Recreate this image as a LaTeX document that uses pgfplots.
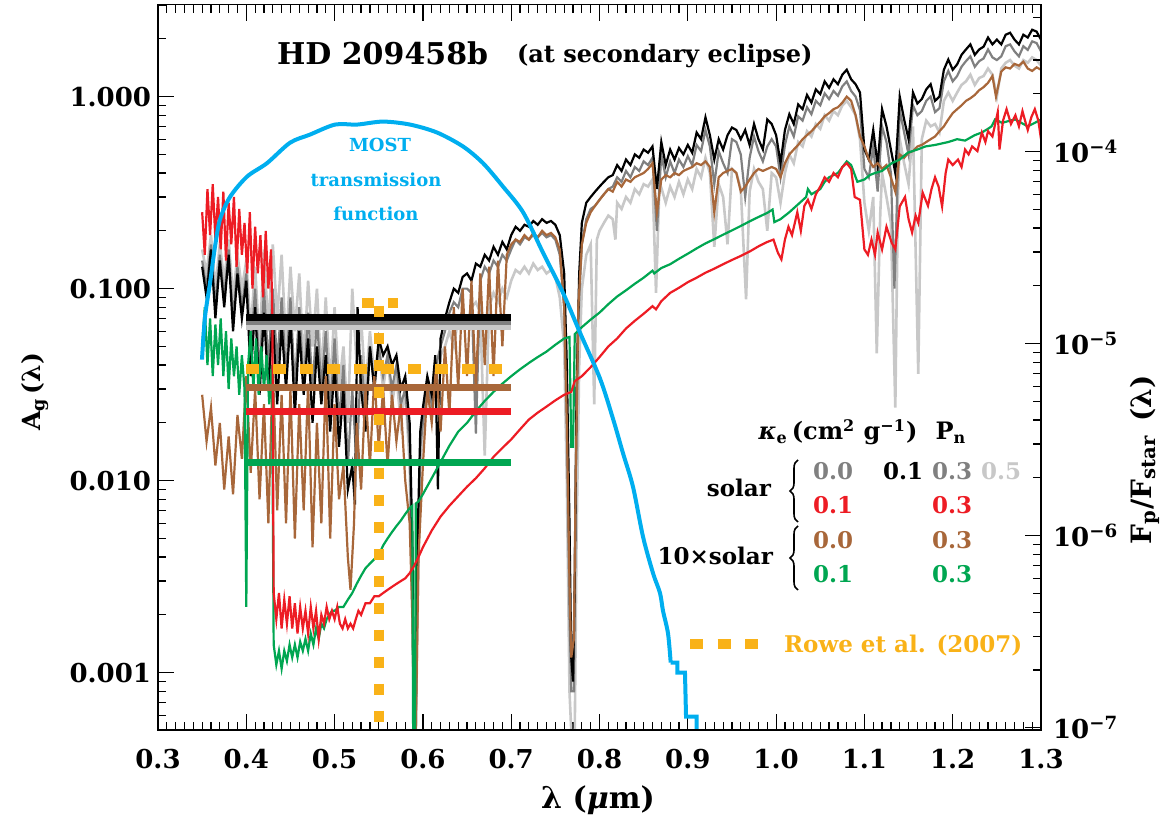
\documentclass[border=0pt]{standalone}
\usepackage{pgfplots}
\pgfplotsset{compat=1.18}
\usepackage{fontspec}
\setmainfont{DejaVu Serif}
\usetikzlibrary{decorations.pathreplacing}
\definecolor{cdgray}{RGB}{128,128,128}
\definecolor{clgray}{RGB}{200,200,200}
\definecolor{cred}{RGB}{237,28,36}
\definecolor{cgreen}{RGB}{0,166,81}
\definecolor{cbrown}{RGB}{168,103,58}
\definecolor{cblue}{RGB}{0,174,239}
\definecolor{corange}{RGB}{249,178,24}
\newcommand{\fs}[1]{\fontsize{#1}{#1}\selectfont\bfseries}
\begin{document}
\begin{tikzpicture}
\useasboundingbox (0,0) rectangle (583.5pt,409pt);
\begin{axis}[
  at={(79pt,44pt)}, anchor=south west,
  width=441.5pt, height=362.65pt, scale only axis,
  xmin=0.3, xmax=1.3, ymode=log, ymin=5.03e-4, ymax=3.01,
  xtick={0.3,0.4,0.5,0.6,0.7,0.8,0.9,1.0,1.1,1.2,1.3},
  xticklabels={0.3,0.4,0.5,0.6,0.7,0.8,0.9,1.0,1.1,1.2,1.3},
  minor x tick num=9,
  ytick={0.001,0.01,0.1,1}, yticklabels={0.001,0.010,0.100,1.000},
  minor ytick={6e-4,7e-4,8e-4,9e-4,2e-3,3e-3,4e-3,5e-3,6e-3,7e-3,8e-3,9e-3,2e-2,3e-2,4e-2,5e-2,6e-2,7e-2,8e-2,9e-2,0.2,0.3,0.4,0.5,0.6,0.7,0.8,0.9,2,3},
  xtick pos=both, ytick pos=left, tick align=inside,
  major tick length=8pt, minor tick length=4pt,
  tick style={black, line width=0.6pt},
  axis line style={line width=0.7pt},
  tick label style={font=\fs{13}},
  xticklabel style={yshift=-6pt},
]
% light gray: solar k=0.0 Pn=0.5
\addplot[clgray, line width=1.3pt] coordinates {
(0.350,0.16)(0.355,0.12)(0.360,0.19)(0.365,0.10)(0.370,0.17)(0.375,0.11)(0.380,0.18)(0.385,0.09)(0.390,0.15)(0.395,0.10)
(0.400,0.14)(0.405,0.06)(0.410,0.13)(0.415,0.05)(0.420,0.16)(0.425,0.06)(0.430,0.17)(0.435,0.07)(0.440,0.15)(0.445,0.05)
(0.450,0.13)(0.455,0.06)(0.460,0.12)(0.465,0.04)(0.470,0.11)(0.475,0.05)(0.480,0.10)(0.485,0.035)(0.490,0.09)(0.495,0.03)
(0.500,0.08)(0.505,0.03)(0.510,0.05)(0.515,0.02)(0.520,0.10)(0.525,0.04)(0.530,0.07)(0.535,0.03)(0.540,0.06)(0.545,0.035)
(0.550,0.05)(0.555,0.03)(0.560,0.045)(0.565,0.025)(0.570,0.035)(0.575,0.02)(0.580,0.03)(0.585,0.012)(0.588,0.002)(0.590,0.0005)
(0.592,0.0005)(0.594,0.002)(0.597,0.012)(0.600,0.018)(0.605,0.03)(0.610,0.022)(0.615,0.035)(0.620,0.045)(0.625,0.05)(0.630,0.06)
(0.635,0.05)(0.640,0.07)(0.645,0.075)(0.650,0.065)(0.655,0.08)(0.660,0.085)(0.665,0.075)(0.670,0.0135)(0.675,0.08)(0.680,0.095)
(0.685,0.085)(0.690,0.1)(0.695,0.09)(0.700,0.11)(0.705,0.125)(0.710,0.12)(0.715,0.13)(0.720,0.12)(0.725,0.135)(0.730,0.125)
(0.735,0.13)(0.740,0.12)(0.745,0.125)(0.750,0.115)(0.755,0.09)(0.760,0.05)(0.763,0.01)(0.766,0.0008)(0.768,0.0005)(0.772,0.0005)
(0.774,0.005)(0.777,0.04)(0.780,0.10)(0.785,0.15)(0.790,0.17)(0.794,0.025)(0.797,0.18)(0.800,0.20)(0.805,0.22)(0.810,0.24)
(0.815,0.23)(0.818,0.18)(0.820,0.28)(0.825,0.26)(0.830,0.30)(0.835,0.28)(0.840,0.33)(0.845,0.31)(0.850,0.35)(0.855,0.34)
(0.860,0.37)(0.864,0.095)(0.868,0.36)(0.875,0.28)(0.880,0.34)(0.885,0.30)(0.890,0.36)(0.895,0.31)(0.900,0.37)(0.905,0.33)
(0.910,0.42)(0.915,0.38)(0.920,0.48)(0.925,0.40)(0.930,0.165)(0.935,0.35)(0.940,0.30)(0.945,0.17)(0.950,0.42)(0.955,0.40)
(0.960,0.33)(0.966,0.088)(0.970,0.32)(0.975,0.42)(0.980,0.36)(0.985,0.33)(0.990,0.20)(0.995,0.40)(1.000,0.38)(1.005,0.28)
(1.010,0.40)(1.015,0.50)(1.020,0.45)(1.025,0.58)(1.030,0.55)(1.035,0.66)(1.040,0.62)(1.045,0.72)(1.050,0.68)(1.055,0.80)
(1.060,0.75)(1.065,0.84)(1.070,0.80)(1.075,0.90)(1.080,0.95)(1.085,0.88)(1.090,0.80)(1.095,0.60)(1.100,0.28)(1.105,0.20)
(1.110,0.30)(1.114,0.046)(1.118,0.25)(1.120,0.40)(1.125,0.30)(1.130,0.22)(1.135,0.024)(1.138,0.30)(1.140,0.60)(1.145,0.45)
(1.150,0.35)(1.155,0.70)(1.161,0.036)(1.165,0.60)(1.170,0.75)(1.175,0.70)(1.180,0.72)(1.185,0.65)(1.190,0.95)(1.195,1.05)
(1.200,0.95)(1.205,1.05)(1.210,1.15)(1.215,1.20)(1.220,1.30)(1.225,1.15)(1.230,1.25)(1.235,1.28)(1.240,1.40)(1.245,1.30)
(1.250,1.00)(1.255,1.40)(1.260,1.50)(1.265,1.55)(1.270,1.45)(1.275,1.40)(1.280,1.55)(1.285,1.50)(1.290,1.60)(1.295,1.55)(1.300,1.45)};
% dark gray: solar k=0.0 Pn=0.3
\addplot[cdgray, line width=1.1pt] coordinates {
(0.350,0.14)(0.355,0.10)(0.360,0.17)(0.365,0.08)(0.370,0.15)(0.375,0.09)(0.380,0.16)(0.385,0.07)(0.390,0.13)(0.395,0.08)
(0.400,0.12)(0.405,0.045)(0.410,0.10)(0.415,0.035)(0.420,0.10)(0.425,0.04)(0.430,0.10)(0.435,0.04)(0.440,0.09)(0.445,0.035)
(0.450,0.09)(0.455,0.03)(0.460,0.08)(0.465,0.03)(0.470,0.075)(0.475,0.03)(0.480,0.07)(0.485,0.03)(0.490,0.06)(0.495,0.022)
(0.500,0.055)(0.505,0.02)(0.510,0.04)(0.515,0.012)(0.520,0.03)(0.525,0.012)(0.530,0.045)(0.535,0.022)(0.540,0.05)(0.545,0.03)
(0.550,0.05)(0.555,0.035)(0.560,0.045)(0.565,0.03)(0.570,0.04)(0.575,0.025)(0.580,0.03)(0.585,0.015)(0.588,0.003)(0.590,0.0005)
(0.592,0.0005)(0.594,0.003)(0.597,0.015)(0.600,0.02)(0.605,0.032)(0.610,0.025)(0.615,0.04)(0.620,0.05)(0.625,0.06)(0.630,0.075)
(0.635,0.085)(0.640,0.08)(0.645,0.1)(0.650,0.1)(0.655,0.095)(0.660,0.0176)(0.665,0.11)(0.670,0.13)(0.675,0.12)(0.680,0.14)
(0.685,0.13)(0.690,0.15)(0.695,0.14)(0.700,0.16)(0.705,0.18)(0.710,0.17)(0.715,0.185)(0.720,0.18)(0.725,0.19)(0.730,0.185)
(0.735,0.195)(0.740,0.185)(0.745,0.19)(0.750,0.18)(0.755,0.15)(0.760,0.08)(0.763,0.02)(0.766,0.002)(0.768,0.0008)(0.771,0.0008)
(0.773,0.01)(0.776,0.07)(0.780,0.17)(0.785,0.23)(0.790,0.26)(0.795,0.27)(0.800,0.29)(0.805,0.31)(0.810,0.33)(0.815,0.34)
(0.820,0.38)(0.825,0.36)(0.830,0.41)(0.835,0.38)(0.840,0.43)(0.845,0.41)(0.850,0.46)(0.855,0.44)(0.860,0.48)(0.865,0.2)
(0.870,0.50)(0.875,0.38)(0.880,0.46)(0.885,0.40)(0.890,0.47)(0.895,0.43)(0.900,0.49)(0.905,0.44)(0.910,0.56)(0.915,0.52)
(0.920,0.67)(0.925,0.55)(0.930,0.35)(0.935,0.52)(0.940,0.45)(0.945,0.40)(0.950,0.60)(0.955,0.58)(0.960,0.50)(0.965,0.30)
(0.970,0.48)(0.975,0.62)(0.980,0.52)(0.985,0.46)(0.990,0.55)(0.995,0.60)(1.000,0.55)(1.005,0.38)(1.010,0.56)(1.015,0.70)
(1.020,0.62)(1.025,0.79)(1.030,0.75)(1.035,0.88)(1.040,0.81)(1.045,0.95)(1.050,0.90)(1.055,1.04)(1.060,0.97)(1.065,1.07)
(1.070,1.01)(1.075,1.13)(1.080,1.20)(1.085,1.07)(1.090,1.0)(1.095,0.85)(1.100,0.42)(1.105,0.38)(1.110,0.55)(1.115,0.32)
(1.120,0.70)(1.125,0.58)(1.130,0.40)(1.134,0.10)(1.137,0.30)(1.140,0.85)(1.145,0.65)(1.150,0.50)(1.155,0.90)(1.160,0.80)
(1.165,0.84)(1.170,0.95)(1.175,1.0)(1.180,0.83)(1.185,0.87)(1.190,1.20)(1.195,1.36)(1.200,1.2)(1.205,1.28)(1.210,1.43)
(1.215,1.53)(1.220,1.62)(1.225,1.43)(1.230,1.53)(1.235,1.58)(1.240,1.76)(1.245,1.60)(1.250,1.55)(1.255,1.62)(1.260,1.83)
(1.265,1.87)(1.270,1.72)(1.275,1.62)(1.280,1.83)(1.285,1.75)(1.290,1.94)(1.295,1.90)(1.300,1.72)};
% black: solar k=0.0 Pn=0.1
\addplot[black, line width=1.1pt] coordinates {
(0.350,0.13)(0.355,0.09)(0.360,0.16)(0.365,0.07)(0.370,0.14)(0.375,0.08)(0.380,0.15)(0.385,0.06)(0.390,0.12)(0.395,0.07)
(0.400,0.11)(0.405,0.035)(0.410,0.08)(0.415,0.028)(0.420,0.075)(0.425,0.03)(0.430,0.07)(0.435,0.025)(0.440,0.065)(0.445,0.03)
(0.450,0.07)(0.455,0.022)(0.460,0.06)(0.465,0.028)(0.470,0.055)(0.475,0.02)(0.480,0.05)(0.485,0.025)(0.490,0.045)(0.495,0.018)
(0.500,0.04)(0.505,0.015)(0.510,0.03)(0.515,0.009)(0.520,0.012)(0.523,0.0075)(0.526,0.08)(0.530,0.03)(0.535,0.018)(0.540,0.05)
(0.545,0.03)(0.550,0.055)(0.555,0.045)(0.560,0.05)(0.565,0.04)(0.570,0.045)(0.575,0.03)(0.580,0.035)(0.585,0.02)(0.588,0.005)
(0.590,0.0007)(0.592,0.0007)(0.594,0.005)(0.597,0.018)(0.600,0.024)(0.605,0.035)(0.610,0.028)(0.614,0.045)(0.617,0.009)(0.620,0.055)
(0.625,0.07)(0.630,0.085)(0.635,0.1)(0.640,0.095)(0.645,0.115)(0.650,0.12)(0.655,0.11)(0.660,0.135)(0.665,0.13)(0.670,0.15)
(0.675,0.14)(0.680,0.165)(0.685,0.15)(0.690,0.175)(0.695,0.16)(0.700,0.19)(0.705,0.21)(0.710,0.2)(0.715,0.215)(0.720,0.21)
(0.725,0.225)(0.730,0.215)(0.735,0.23)(0.740,0.22)(0.745,0.225)(0.750,0.215)(0.755,0.19)(0.760,0.12)(0.763,0.04)(0.766,0.006)
(0.768,0.0012)(0.770,0.0009)(0.772,0.003)(0.774,0.03)(0.777,0.12)(0.780,0.22)(0.785,0.28)(0.790,0.30)(0.795,0.32)(0.800,0.34)
(0.805,0.36)(0.810,0.38)(0.815,0.39)(0.820,0.44)(0.825,0.41)(0.830,0.47)(0.835,0.44)(0.840,0.50)(0.845,0.48)(0.850,0.53)
(0.855,0.51)(0.860,0.55)(0.865,0.33)(0.870,0.58)(0.875,0.44)(0.880,0.53)(0.885,0.47)(0.890,0.54)(0.895,0.50)(0.900,0.56)
(0.905,0.51)(0.910,0.65)(0.915,0.60)(0.920,0.78)(0.925,0.63)(0.930,0.47)(0.935,0.60)(0.940,0.53)(0.945,0.63)(0.950,0.69)
(0.955,0.67)(0.960,0.60)(0.965,0.67)(0.970,0.56)(0.975,0.72)(0.980,0.60)(0.985,0.53)(0.990,0.76)(0.995,0.72)(1.000,0.63)
(1.005,0.45)(1.010,0.67)(1.015,0.81)(1.020,0.72)(1.025,0.91)(1.030,0.86)(1.035,1.02)(1.040,0.93)(1.045,1.09)(1.050,1.03)
(1.055,1.20)(1.060,1.11)(1.065,1.23)(1.070,1.16)(1.075,1.30)(1.080,1.38)(1.085,1.23)(1.090,1.16)(1.095,1.05)(1.100,0.53)
(1.105,0.47)(1.110,0.67)(1.115,0.44)(1.120,0.86)(1.125,0.70)(1.130,0.53)(1.135,0.40)(1.140,1.0)(1.145,0.76)(1.150,0.60)
(1.155,1.05)(1.160,0.92)(1.165,0.97)(1.170,1.09)(1.175,1.16)(1.180,0.95)(1.185,1.0)(1.190,1.38)(1.195,1.56)(1.200,1.38)
(1.205,1.47)(1.210,1.65)(1.215,1.76)(1.220,1.87)(1.225,1.65)(1.230,1.76)(1.235,1.82)(1.240,2.03)(1.245,1.87)(1.250,1.98)
(1.255,1.87)(1.260,2.10)(1.265,2.15)(1.270,1.98)(1.275,1.87)(1.280,2.10)(1.285,2.03)(1.290,2.23)(1.295,2.18)(1.300,1.98)};
% brown: 10x solar k=0.0 Pn=0.3
\addplot[cbrown, line width=1.1pt] coordinates {
(0.350,0.028)(0.355,0.016)(0.360,0.024)(0.365,0.012)(0.370,0.02)(0.375,0.009)(0.380,0.017)(0.385,0.0085)(0.390,0.022)(0.395,0.013)
(0.400,0.035)(0.405,0.011)(0.410,0.03)(0.415,0.008)(0.420,0.025)(0.425,0.006)(0.430,0.04)(0.435,0.007)(0.440,0.028)(0.445,0.006)
(0.450,0.03)(0.455,0.005)(0.460,0.025)(0.465,0.007)(0.470,0.032)(0.475,0.0045)(0.480,0.02)(0.485,0.006)(0.490,0.035)(0.495,0.005)
(0.500,0.025)(0.505,0.008)(0.510,0.012)(0.515,0.004)(0.518,0.0027)(0.522,0.006)(0.525,0.02)(0.530,0.009)(0.535,0.03)(0.540,0.012)
(0.545,0.035)(0.550,0.015)(0.555,0.03)(0.560,0.012)(0.565,0.028)(0.570,0.016)(0.575,0.025)(0.580,0.01)(0.585,0.006)(0.588,0.002)
(0.590,0.0005)(0.592,0.0005)(0.595,0.004)(0.600,0.012)(0.605,0.03)(0.610,0.02)(0.615,0.04)(0.620,0.018)(0.625,0.05)(0.630,0.022)
(0.635,0.08)(0.640,0.03)(0.645,0.1)(0.650,0.035)(0.655,0.11)(0.660,0.03)(0.665,0.12)(0.670,0.04)(0.675,0.13)(0.680,0.035)
(0.685,0.14)(0.690,0.05)(0.695,0.15)(0.700,0.17)(0.705,0.18)(0.710,0.175)(0.715,0.19)(0.720,0.18)(0.725,0.195)(0.730,0.185)
(0.735,0.2)(0.740,0.19)(0.745,0.195)(0.750,0.185)(0.755,0.16)(0.760,0.08)(0.763,0.02)(0.766,0.003)(0.768,0.0012)(0.771,0.0015)
(0.773,0.01)(0.776,0.08)(0.780,0.17)(0.785,0.22)(0.790,0.25)(0.795,0.27)(0.800,0.29)(0.805,0.31)(0.810,0.33)(0.815,0.32)
(0.820,0.36)(0.825,0.34)(0.830,0.37)(0.835,0.36)(0.840,0.38)(0.845,0.39)(0.850,0.40)(0.855,0.42)(0.860,0.45)(0.865,0.25)
(0.870,0.37)(0.875,0.39)(0.880,0.38)(0.885,0.40)(0.890,0.39)(0.895,0.41)(0.900,0.42)(0.905,0.43)(0.910,0.45)(0.915,0.44)
(0.920,0.46)(0.925,0.43)(0.930,0.25)(0.935,0.38)(0.940,0.40)(0.945,0.41)(0.950,0.42)(0.955,0.40)(0.960,0.32)(0.965,0.34)
(0.970,0.37)(0.975,0.40)(0.980,0.42)(0.985,0.41)(0.990,0.42)(0.995,0.43)(1.000,0.42)(1.005,0.38)(1.010,0.45)(1.015,0.50)
(1.020,0.53)(1.025,0.56)(1.030,0.60)(1.035,0.63)(1.040,0.66)(1.045,0.70)(1.050,0.74)(1.055,0.79)(1.060,0.82)(1.065,0.86)
(1.070,0.88)(1.075,0.93)(1.080,1.0)(1.085,0.95)(1.090,0.8)(1.095,0.62)(1.100,0.55)(1.105,0.47)(1.110,0.43)(1.115,0.45)
(1.120,0.42)(1.125,0.44)(1.130,0.38)(1.135,0.32)(1.140,0.50)(1.145,0.48)(1.150,0.51)(1.155,0.52)(1.160,0.55)(1.165,0.56)
(1.170,0.58)(1.175,0.60)(1.180,0.62)(1.185,0.66)(1.190,0.70)(1.195,0.76)(1.200,0.82)(1.205,0.86)(1.210,0.90)(1.215,0.95)
(1.220,0.98)(1.225,1.02)(1.230,1.08)(1.235,1.12)(1.240,1.18)(1.245,1.28)(1.249,1.0)(1.255,1.35)(1.260,1.42)(1.265,1.40)
(1.270,1.48)(1.275,1.45)(1.280,1.52)(1.285,1.40)(1.290,1.36)(1.295,1.42)(1.300,1.38)};
% green: 10x solar k=0.1 Pn=0.3
\addplot[cgreen, line width=1.1pt] coordinates {
(0.350,0.05)(0.353,0.08)(0.356,0.04)(0.359,0.07)(0.362,0.035)(0.365,0.065)(0.368,0.04)(0.371,0.07)(0.374,0.035)(0.377,0.06)
(0.380,0.03)(0.383,0.055)(0.386,0.035)(0.389,0.05)(0.392,0.028)(0.395,0.045)(0.398,0.03)(0.400,0.0022)(0.402,0.04)(0.405,0.06)
(0.408,0.03)(0.411,0.055)(0.414,0.028)(0.417,0.05)(0.420,0.03)(0.423,0.045)(0.426,0.025)(0.429,0.04)(0.431,0.0014)(0.434,0.0011)
(0.437,0.0013)(0.440,0.00105)(0.443,0.0013)(0.446,0.00115)(0.449,0.0014)(0.452,0.0012)(0.455,0.0014)(0.458,0.0012)(0.461,0.00145)(0.464,0.0013)
(0.467,0.0015)(0.470,0.0013)(0.473,0.0016)(0.476,0.0014)(0.479,0.0017)(0.482,0.0015)(0.485,0.0018)(0.488,0.0017)(0.491,0.0019)(0.494,0.002)
(0.497,0.0021)(0.500,0.0021)(0.505,0.0022)(0.510,0.0022)(0.515,0.0024)(0.520,0.0026)(0.525,0.0029)(0.530,0.0032)(0.535,0.0035)(0.540,0.0037)
(0.545,0.0039)(0.550,0.0041)(0.555,0.0046)(0.560,0.0050)(0.565,0.0054)(0.570,0.0058)(0.575,0.0062)(0.580,0.0067)(0.585,0.0072)(0.588,0.0074)
(0.589,0.0004)(0.591,0.0004)(0.592,0.0076)(0.595,0.0078)(0.600,0.0085)(0.610,0.0103)(0.620,0.0125)(0.630,0.0152)(0.640,0.018)(0.650,0.020)
(0.660,0.023)(0.670,0.026)(0.680,0.029)(0.690,0.032)(0.700,0.035)(0.710,0.038)(0.720,0.041)(0.730,0.044)(0.740,0.047)(0.750,0.051)
(0.760,0.055)(0.766,0.056)(0.768,0.015)(0.770,0.015)(0.772,0.058)(0.780,0.063)(0.790,0.069)(0.800,0.075)(0.810,0.083)(0.820,0.091)
(0.830,0.098)(0.840,0.106)(0.850,0.114)(0.860,0.124)(0.862,0.120)(0.870,0.128)(0.880,0.134)(0.890,0.143)(0.900,0.152)(0.910,0.162)
(0.920,0.172)(0.930,0.181)(0.940,0.191)(0.950,0.201)(0.960,0.212)(0.970,0.224)(0.980,0.236)(0.990,0.248)(0.996,0.258)(0.998,0.222)
(1.005,0.23)(1.015,0.25)(1.025,0.275)(1.034,0.30)(1.036,0.33)(1.040,0.31)(1.050,0.33)(1.055,0.36)(1.060,0.38)(1.070,0.40)
(1.080,0.46)(1.085,0.44)(1.092,0.36)(1.100,0.37)(1.106,0.39)(1.112,0.40)(1.120,0.41)(1.131,0.45)(1.140,0.47)(1.149,0.51)
(1.160,0.53)(1.169,0.55)(1.180,0.56)(1.195,0.58)(1.205,0.60)(1.214,0.59)(1.225,0.63)(1.233,0.65)(1.240,0.68)(1.244,0.70)
(1.248,0.76)(1.256,0.73)(1.265,0.75)(1.271,0.76)(1.280,0.72)(1.285,0.70)(1.293,0.73)(1.300,0.76)};
% red: solar k=0.1 Pn=0.3
\addplot[cred, line width=1.1pt] coordinates {
(0.350,0.25)(0.353,0.15)(0.356,0.33)(0.359,0.19)(0.362,0.35)(0.365,0.18)(0.368,0.30)(0.371,0.16)(0.374,0.32)(0.377,0.14)
(0.380,0.28)(0.383,0.17)(0.386,0.30)(0.389,0.13)(0.392,0.26)(0.395,0.15)(0.398,0.22)(0.401,0.12)(0.404,0.25)(0.407,0.10)
(0.410,0.21)(0.413,0.12)(0.416,0.19)(0.419,0.09)(0.422,0.20)(0.425,0.10)(0.428,0.16)(0.4295,0.07)(0.431,0.0026)(0.434,0.0019)
(0.437,0.0026)(0.440,0.0017)(0.443,0.0024)(0.446,0.0018)(0.449,0.0025)(0.452,0.0017)(0.455,0.0023)(0.458,0.0016)(0.461,0.0022)(0.464,0.0017)
(0.467,0.0021)(0.470,0.0016)(0.473,0.0022)(0.476,0.0017)(0.479,0.0021)(0.482,0.0015)(0.485,0.002)(0.488,0.0018)(0.491,0.0022)(0.494,0.0019)
(0.497,0.0021)(0.500,0.0019)(0.503,0.0022)(0.506,0.0018)(0.509,0.0017)(0.512,0.0019)(0.515,0.0017)(0.518,0.0018)(0.521,0.0017)(0.524,0.0019)
(0.527,0.0021)(0.530,0.0020)(0.535,0.0023)(0.540,0.0023)(0.545,0.0025)(0.550,0.0025)(0.555,0.0026)(0.560,0.0027)(0.565,0.0028)(0.570,0.0029)
(0.575,0.0030)(0.580,0.0031)(0.585,0.0033)(0.590,0.0036)(0.595,0.0040)(0.600,0.0045)(0.610,0.0055)(0.620,0.0065)(0.630,0.0074)(0.640,0.0083)
(0.650,0.0093)(0.660,0.0103)(0.670,0.0116)(0.680,0.0133)(0.690,0.0148)(0.700,0.0164)(0.710,0.0185)(0.720,0.0208)(0.730,0.0226)(0.740,0.0243)
(0.750,0.0262)(0.760,0.0280)(0.768,0.0290)(0.772,0.033)(0.780,0.035)(0.790,0.039)(0.800,0.044)(0.810,0.050)(0.820,0.055)(0.830,0.062)
(0.840,0.068)(0.850,0.074)(0.860,0.081)(0.864,0.078)(0.870,0.086)(0.880,0.095)(0.890,0.101)(0.900,0.108)(0.910,0.114)(0.920,0.121)
(0.930,0.127)(0.940,0.134)(0.950,0.141)(0.960,0.148)(0.970,0.156)(0.980,0.166)(0.990,0.175)(0.997,0.18)(1.002,0.154)(1.006,0.142)
(1.010,0.18)(1.014,0.21)(1.018,0.19)(1.024,0.25)(1.028,0.20)(1.032,0.27)(1.036,0.29)(1.040,0.26)(1.045,0.31)(1.050,0.34)
(1.055,0.38)(1.060,0.36)(1.065,0.40)(1.070,0.38)(1.075,0.43)(1.080,0.45)(1.085,0.42)(1.089,0.30)(1.095,0.29)(1.100,0.16)
(1.104,0.15)(1.108,0.18)(1.112,0.15)(1.115,0.196)(1.120,0.16)(1.125,0.21)(1.131,0.173)(1.135,0.16)(1.140,0.268)(1.146,0.30)
(1.150,0.23)(1.154,0.196)(1.158,0.24)(1.161,0.22)(1.166,0.316)(1.172,0.27)(1.176,0.33)(1.180,0.38)(1.184,0.34)(1.188,0.268)
(1.192,0.40)(1.195,0.47)(1.200,0.44)(1.206,0.47)(1.210,0.43)(1.214,0.53)(1.218,0.50)(1.222,0.55)(1.228,0.52)(1.233,0.65)
(1.237,0.58)(1.240,0.66)(1.245,0.62)(1.251,0.83)(1.253,0.53)(1.257,0.75)(1.261,0.86)(1.266,0.72)(1.271,0.80)(1.275,0.70)
(1.279,0.84)(1.283,0.72)(1.285,0.67)(1.289,0.78)(1.293,0.86)(1.297,0.75)(1.300,0.60)};
% MOST transmission function
\addplot[cblue, line width=2pt, smooth, tension=0.5] coordinates {
(0.3498,0.0427)(0.3532,0.071)(0.3589,0.107)(0.3646,0.166)(0.3702,0.229)(0.3815,0.30)(0.4008,0.383)(0.4234,0.45)
(0.4495,0.575)(0.4721,0.634)(0.5005,0.715)(0.5254,0.715)(0.5548,0.741)(0.5854,0.715)(0.616,0.65)(0.6454,0.55)
(0.6681,0.45)(0.6907,0.34)(0.7134,0.25)(0.736,0.154)(0.7587,0.095)(0.7779,0.059)(0.8006,0.034)(0.8153,0.021)
(0.8266,0.0139)(0.8379,0.0093)(0.8493,0.0051)(0.8606,0.0033)(0.8685,0.0026)(0.8719,0.0021)(0.8776,0.0016)(0.8806,0.00113)};
\addplot[cblue, line width=2pt] coordinates {
(0.8806,0.00113)(0.8881,0.00113)(0.8881,0.00100)(0.8968,0.00100)(0.898,0.00059)(0.9100,0.00059)(0.9100,0.0004)};
% band averages
\addplot[clgray, line width=3.2pt] coordinates {(0.4,0.0634)(0.7,0.0634)};
\addplot[cdgray, line width=3.2pt] coordinates {(0.4,0.0672)(0.7,0.0672)};
\addplot[black, line width=3.2pt] coordinates {(0.4,0.0706)(0.7,0.0706)};
\addplot[cbrown, line width=3.3pt] coordinates {(0.4,0.0305)(0.7,0.0305)};
\addplot[cred, line width=3.3pt] coordinates {(0.4,0.0229)(0.7,0.0229)};
\addplot[cgreen, line width=3.3pt] coordinates {(0.4,0.0124)(0.7,0.0124)};
% Rowe et al. (2007)
\addplot[corange, line width=5pt, dash pattern=on 6.5pt off 7pt] coordinates {(0.4,0.0383)(0.7,0.0383)};
\addplot[corange, line width=5pt, dash pattern=on 5.5pt off 8pt] coordinates {(0.55,0.0816)(0.55,0.0004)};
\addplot[corange, line width=5pt, dash pattern=on 6pt off 7pt] coordinates {(0.531,0.0845)(0.572,0.0845)};
\end{axis}
\begin{axis}[
  at={(79pt,44pt)}, anchor=south west,
  width=441.5pt, height=362.65pt, scale only axis,
  xmin=0.3, xmax=1.3, ymode=log, ymin=9.73e-8, ymax=5.82e-4,
  xtick=\empty, ytick pos=right, tick align=inside,
  ytick={1e-7,1e-6,1e-5,1e-4},
  yticklabels={10\textsuperscript{−7},10\textsuperscript{−6},10\textsuperscript{−5},10\textsuperscript{−4}},
  minor ytick={2e-7,3e-7,4e-7,5e-7,6e-7,7e-7,8e-7,9e-7,2e-6,3e-6,4e-6,5e-6,6e-6,7e-6,8e-6,9e-6,2e-5,3e-5,4e-5,5e-5,6e-5,7e-5,8e-5,9e-5,2e-4,3e-4,4e-4,5e-4},
  major tick length=8pt, minor tick length=4pt,
  tick style={black, line width=0.6pt},
  axis line style={line width=0.7pt},
  tick label style={font=\fs{13}},
  yticklabel style={xshift=2.5pt},
]
\addplot[draw=none] coordinates {(0.5,1e-5)};
\end{axis}
% axis labels
\node[rotate=90, font=\fs{12.5}] at (17.5pt,213pt) {A\textsubscript{g}\,(λ)};
\node[font=\fs{15}] at (299pt,9pt) {λ (\textit{μ}m)};
\node[rotate=90, font=\fs{14}] at (572.5pt,179pt) {F\textsubscript{p}/F\textsubscript{star}\hspace{0.5em}(λ)};
% title
\node[anchor=base west, font=\fs{15}] at (135pt,376.5pt) {HD 209458b};
\node[anchor=base west, font=\fs{12}] at (255pt,377.5pt) {(at secondary eclipse)};
% MOST
\node[anchor=base, font=\fs{9}, text=cblue] at (190pt,333pt) {MOST};
\node[anchor=base, font=\fs{9}, text=cblue] at (188pt,315.5pt) {transmission};
\node[anchor=base, font=\fs{9}, text=cblue] at (188pt,298.5pt) {function};
% legend block
\node[anchor=base, font=\fs{12}] at (419pt,189pt) {\textit{κ}\textsubscript{e}\,(cm\textsuperscript{2} g\textsuperscript{−1})};
\node[anchor=base, font=\fs{12}] at (475.5pt,189pt) {P\textsubscript{n}};
\begin{scope}[every node/.style={anchor=base, font=\fs{11.5}}]
\node[text=cdgray] at (416.5pt,169pt) {0.0};
\node at (451.5pt,169pt) {0.1};
\node[text=cdgray] at (476pt,169pt) {0.3};
\node[text=clgray] at (500.5pt,169pt) {0.5};
\node[text=cred] at (416.5pt,152pt) {0.1};
\node[text=cred] at (476pt,152pt) {0.3};
\node[text=cbrown] at (416.5pt,134.5pt) {0.0};
\node[text=cbrown] at (476pt,134.5pt) {0.3};
\node[text=cgreen] at (416.5pt,117.5pt) {0.1};
\node[text=cgreen] at (476pt,117.5pt) {0.3};
\node[anchor=base east] at (389pt,160.5pt) {solar};
\node[anchor=base east] at (390pt,126.5pt) {10×solar};
\end{scope}
\draw[line width=0.8pt, decorate, decoration={brace, amplitude=4pt}] (399pt,148pt) -- (399pt,179pt);
\draw[line width=0.8pt, decorate, decoration={brace, amplitude=4pt}] (399pt,114pt) -- (399pt,146pt);
% Rowe legend
\draw[corange, line width=5pt, dash pattern=on 6.5pt off 7.25pt] (345pt,87pt) -- (379.5pt,87pt);
\node[anchor=base west, text=corange, font=\fs{11.5}] at (388.5pt,82.5pt) {Rowe et al. (2007)};
\end{tikzpicture}
\end{document}
